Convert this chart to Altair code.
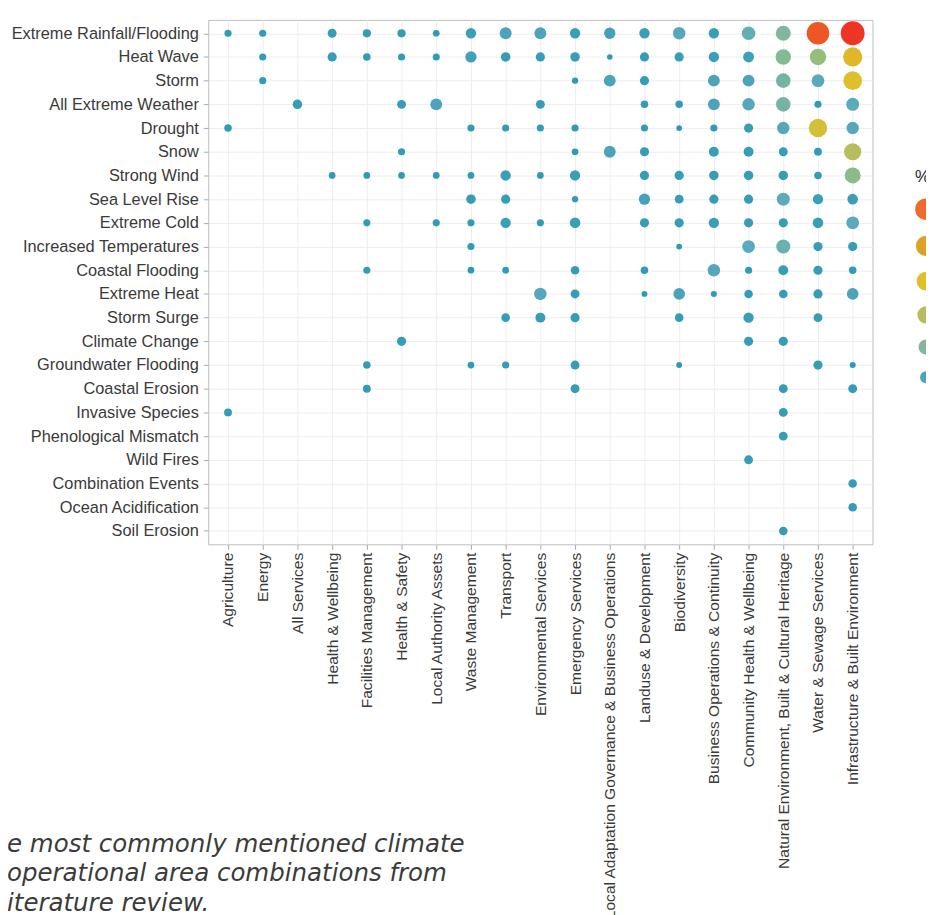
import altair as alt
import pandas as pd

N = None

hazards = [
    "Extreme Rainfall/Flooding", "Heat Wave", "Storm", "All Extreme Weather", "Drought",
    "Snow", "Strong Wind", "Sea Level Rise", "Extreme Cold", "Increased Temperatures",
    "Coastal Flooding", "Extreme Heat", "Storm Surge", "Climate Change", "Groundwater Flooding",
    "Coastal Erosion", "Invasive Species", "Phenological Mismatch", "Wild Fires",
    "Combination Events", "Ocean Acidification", "Soil Erosion",
]

areas = [
    "Agriculture", "Energy", "All Services", "Health & Wellbeing", "Facilities Management",
    "Health & Safety", "Local Authority Assets", "Waste Management", "Transport",
    "Environmental Services", "Emergency Services",
    "Local Adaptation Governance & Business Operations", "Landuse & Development",
    "Biodiversity", "Business Operations & Continuity", "Community Health & Wellbeing",
    "Natural Environment, Built & Cultural Heritage", "Water & Sewage Services",
    "Infrastructure & Built Environment",
]

# percentage of mentions, one value per operational area (None = not mentioned)
extreme_rainfall = [1.8, 1.8, N, 2.8, 2.4, 2.4, 1.6, 3.8, 5, 5, 3.8, 4.5, 3.8, 5.5, 3.8, 6.5, 8, 18, 20]
heat_wave = [N, 1.8, N, 3, 2, 1.8, 1.8, 4.5, 3.2, 3, 3.2, 1.1, 3, 3, 3.8, 4.2, 8.5, 9.5, 13]
storm = [N, 1.8, N, N, N, N, N, N, N, N, 1.4, 5, 3, N, 5, 5, 7.5, 5.8, 12.5]
all_extreme_weather = [N, N, 3.2, N, N, 2.8, 5, N, N, 2.8, N, N, 2, 2, 5, 5.5, 7.5, 1.8, 6]
drought = [2, N, N, N, N, N, N, 1.8, 1.8, 1.8, 1.8, N, 1.8, 1.2, 1.8, 3, 5.5, 12, 5.5]
snow = [N, N, N, N, N, 1.8, N, N, N, N, 1.6, 5, 3, N, 3.5, 3.5, 2.8, 2.2, 10.5]
strong_wind = [N, N, N, 1.6, 1.6, 1.6, 1.6, 1.6, 3.8, 1.6, 3.8, N, 3, 3, 3.2, 3.2, 3.2, 2, 9]
sea_level_rise = [N, N, N, N, N, N, N, 3.2, 3, N, 1.4, N, 4.5, 2.8, 3, 3, 6, 3.8, 4]
extreme_cold = [N, N, N, N, 1.8, N, 1.8, 1.8, 3.8, 1.8, 4, N, 3, 3, 3.8, 3, 3, 4, 5.8]
increased_temperatures = [N, N, N, N, N, N, N, 1.8, N, N, N, N, N, 1.2, N, 5.8, 7, 3, 3]
coastal_flooding = [N, N, N, N, 1.8, N, N, 1.6, 1.6, N, 2.6, N, 2, N, 5.5, 1.8, 3.5, 3, 2]
extreme_heat = [N, N, N, N, N, N, N, N, N, 5.5, 2.8, N, 1.2, 4.8, 1.3, 2.6, 2.6, 3, 4.8]
storm_surge = [N, N, N, N, N, N, N, N, 2.6, 3.5, 3, N, N, 2.6, N, 3.8, N, 2.8, N]
climate_change = [N, N, N, N, N, 3, N, N, N, N, N, N, N, N, N, 3, 3, N, N]
groundwater_flooding = [N, N, N, N, 2, N, N, 1.6, 1.8, N, 2.8, N, N, 1.2, N, N, N, 3, 1.3]
coastal_erosion = [N, N, N, N, 2.2, N, N, N, N, N, 2.8, N, N, N, N, N, 2.8, N, 2.8]
invasive_species = [2.2, N, N, N, N, N, N, N, N, N, N, N, N, N, N, N, 2.8, N, N]
phenological_mismatch = [N, N, N, N, N, N, N, N, N, N, N, N, N, N, N, N, 2.8, N, N]
wild_fires = [N, N, N, N, N, N, N, N, N, N, N, N, N, N, N, 2.8, N, N, N]
combination_events = [N, N, N, N, N, N, N, N, N, N, N, N, N, N, N, N, N, N, 2.6]
ocean_acidification = [N, N, N, N, N, N, N, N, N, N, N, N, N, N, N, N, N, N, 2.6]
soil_erosion = [N, N, N, N, N, N, N, N, N, N, N, N, N, N, N, N, 2.6, N, N]

rows = [
    extreme_rainfall, heat_wave, storm, all_extreme_weather, drought, snow, strong_wind,
    sea_level_rise, extreme_cold, increased_temperatures, coastal_flooding, extreme_heat,
    storm_surge, climate_change, groundwater_flooding, coastal_erosion, invasive_species,
    phenological_mismatch, wild_fires, combination_events, ocean_acidification, soil_erosion,
]

legend_values = [16.5, 14.5, 12.5, 10.5, 8, 5]

caption_lines = [
    "e most commonly mentioned climate",
    "\u2002operational area combinations from",
    "iterature review.",
]

records = []
for hz, vals in zip(hazards, rows):
    for ar, v in zip(areas, vals):
        if v is not None:
            records.append({"hazard": hz, "area": ar, "pct": v})
df = pd.DataFrame(records)

scale_stops = [0, 4, 6, 8, 10.5, 12.5, 14.5, 16.5, 20]
color_scale = alt.Scale(
    domain=scale_stops,
    range=["#2b99b5", "#3a9eb8", "#5eaabd", "#82b69e", "#b5bd5c", "#e0bf2c",
           "#dca125", "#ef6a2b", "#ee3424"],
)
# circle area grows in proportion to the percentage (28.75 px^2 per %)
size_scale = alt.Scale(domain=scale_stops, range=[s * 28.75 for s in scale_stops])

label_font = "Liberation Sans"

legend_kw = dict(values=legend_values, orient="none", legendX=713, legendY=151,
                 titleFontSize=17, titleFontWeight="normal", titleColor="#222222",
                 titleFont=label_font, titlePadding=12, labelFontSize=14,
                 rowPadding=15.5, padding=0, symbolOpacity=1, symbolStrokeWidth=0,
                 type="symbol", direction="vertical")

points = alt.Chart(df).mark_circle(opacity=1).encode(
    x=alt.X("area:N", sort=areas, title=None,
            scale=alt.Scale(type="point", padding=0.57),
            axis=alt.Axis(labelAngle=270, labelFontSize=15.7, labelFont=label_font,
                          labelColor="#3a3a3a", tickSize=5, tickColor="#aaaaaa",
                          labelPadding=3, domain=False, grid=True, gridColor="#ededed",
                          labelLimit=500)),
    y=alt.Y("hazard:N", sort=hazards, title=None,
            scale=alt.Scale(type="point", padding=0.565),
            axis=alt.Axis(labelFontSize=16.5, labelFont=label_font, labelColor="#3a3a3a",
                          tickSize=5, tickColor="#aaaaaa", labelPadding=5, domain=False,
                          grid=True, gridColor="#ededed", labelLimit=400)),
    color=alt.Color("pct:Q", scale=color_scale, title="%", legend=alt.Legend(**legend_kw)),
    size=alt.Size("pct:Q", scale=size_scale, title="%", legend=alt.Legend(**legend_kw)),
)

caption = alt.Chart(alt.Data(values=[{"k": 0}])).mark_text(
    text=caption_lines, align="left", baseline="alphabetic", lineHeight=30,
    font="DejaVu Sans", fontSize=24.7, fontStyle="italic", color="#3b3b3b",
).encode(x=alt.value(-203), y=alt.value(839))

chart = alt.layer(points, caption).properties(
    width=670, height=529,
    autosize=alt.AutoSizeParams(type="none"),
    padding={"left": 202, "top": 8, "right": 54, "bottom": 375},
    background="white",
).configure_view(stroke="#bdbdbd", strokeWidth=1)

chart.save("out.html", embed_options={"renderer": "svg", "actions": False})
